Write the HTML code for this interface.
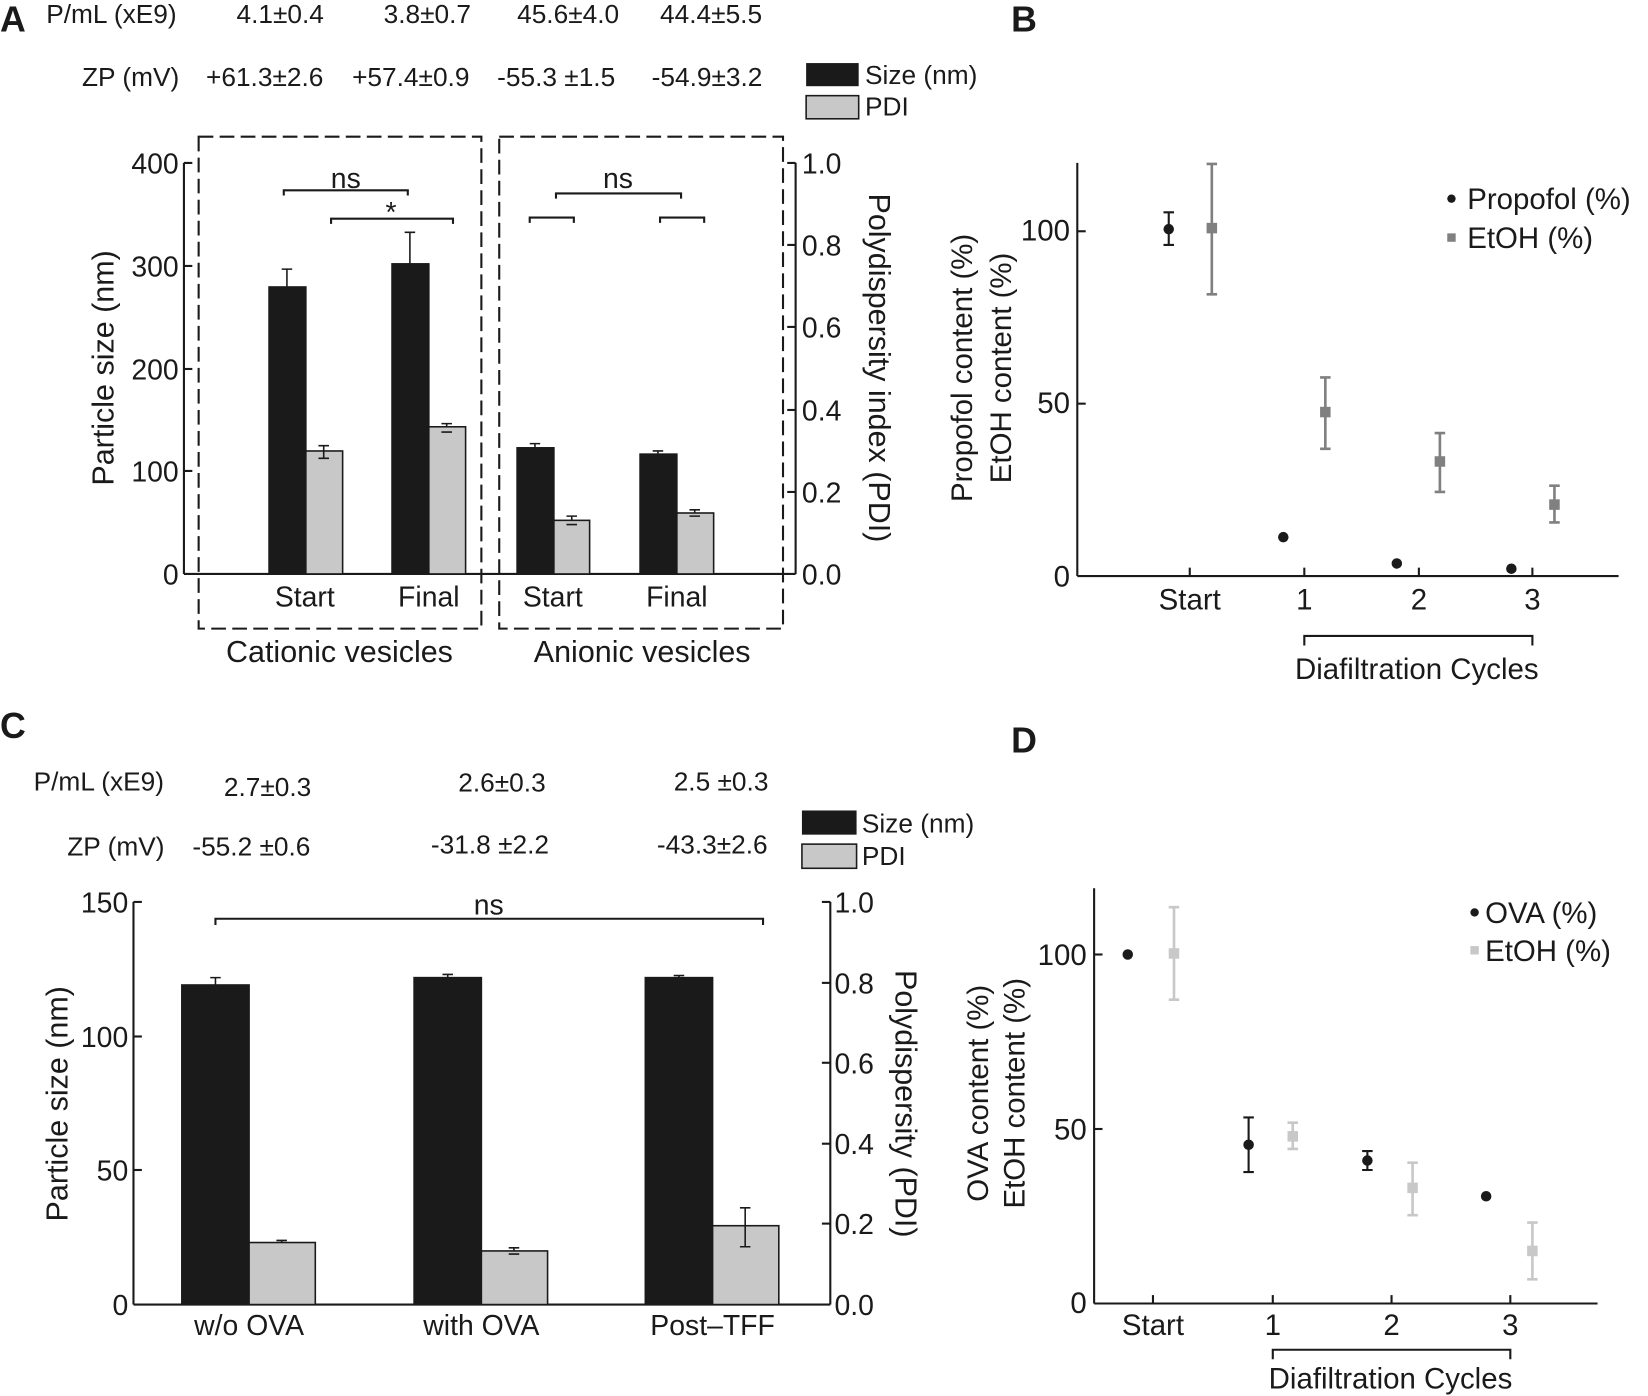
<!DOCTYPE html>
<html><head><style>html,body{margin:0;padding:0;background:#fff}svg{display:block}text{font-family:"Liberation Sans",Arial,sans-serif;fill:#1a1a1a}</style></head>
<body>
<svg width="1648" height="1396" viewBox="0 0 1568 1328" preserveAspectRatio="none" xmlns="http://www.w3.org/2000/svg">
<g stroke="#1a1a1a" stroke-width="2" fill="none">
<line x1="175" y1="155" x2="175" y2="546"/>
<line x1="175" y1="546" x2="757" y2="546"/>
<line x1="757" y1="155" x2="757" y2="546"/>
<line x1="175" y1="155" x2="183" y2="155"/><line x1="175" y1="253" x2="183" y2="253"/><line x1="175" y1="351" x2="183" y2="351"/><line x1="175" y1="448" x2="183" y2="448"/>
<line x1="749" y1="155" x2="757" y2="155"/><line x1="749" y1="233" x2="757" y2="233"/><line x1="749" y1="311" x2="757" y2="311"/><line x1="749" y1="390" x2="757" y2="390"/><line x1="749" y1="468" x2="757" y2="468"/>
<rect x="189" y="130" width="269" height="468" stroke-dasharray="14,6"/>
<rect x="475" y="130" width="270" height="468" stroke-dasharray="14,6"/>
<polyline points="270,186 270,181 388,181 388,186"/>
<polyline points="315,213 315,208 431,208 431,213"/>
<polyline points="529,189 529,184 648,184 648,189"/>
<polyline points="504,212 504,207 546,207 546,212"/>
<polyline points="628,212 628,207 670,207 670,212"/>
</g>
<g stroke="#1a1a1a" stroke-width="1.5">
<rect x="256" y="273" width="35" height="273" fill="#1a1a1a"/>
<rect x="291" y="429" width="35" height="117" fill="#c8c8c8"/>
<rect x="373" y="251" width="35" height="295" fill="#1a1a1a"/>
<rect x="408" y="406" width="35" height="140" fill="#c8c8c8"/>
<rect x="492" y="426" width="35" height="120" fill="#1a1a1a"/>
<rect x="527" y="495" width="34" height="51" fill="#c8c8c8"/>
<rect x="609" y="432" width="35" height="114" fill="#1a1a1a"/>
<rect x="644" y="488" width="35" height="58" fill="#c8c8c8"/>
</g>
<g stroke="#1a1a1a" stroke-width="1.5" fill="none">
<path d="M273,273V256M268,256h10M308,429V424M303,424h10M303,436h10M308,436V429"/>
<path d="M390,251V221M385,221h10M425,406V403M420,403h10M420,411h10"/>
<path d="M509,426V422M504,422h10M544,495V491M539,491h10M539,499h10"/>
<path d="M626,432V429M621,429h10M661,488V485M656,485h10M656,491h10"/>
</g>
<g font-size="25">
<text x="0" y="30" font-size="34" font-weight="bold">A</text>
<text x="44" y="22">P/mL (xE9)</text>
<text x="225" y="22">4.1±0.4</text><text x="365" y="22">3.8±0.7</text><text x="492" y="22">45.6±4.0</text><text x="628" y="22">44.4±5.5</text>
<text x="78" y="82">ZP (mV)</text>
<text x="196" y="82">+61.3±2.6</text><text x="335" y="82">+57.4±0.9</text><text x="473" y="82">-55.3 ±1.5</text><text x="620" y="82">-54.9±3.2</text>
<text x="823" y="80">Size (nm)</text><text x="823" y="110">PDI</text>
<g font-size="27">
<text x="170" y="165" text-anchor="end">400</text><text x="170" y="263" text-anchor="end">300</text><text x="170" y="361" text-anchor="end">200</text><text x="170" y="458" text-anchor="end">100</text><text x="170" y="556" text-anchor="end">0</text>
<text x="763" y="165">1.0</text><text x="763" y="243">0.8</text><text x="763" y="321">0.6</text><text x="763" y="400">0.4</text><text x="763" y="478">0.2</text><text x="763" y="556">0.0</text>
<text x="290" y="577" text-anchor="middle">Start</text><text x="408" y="577" text-anchor="middle">Final</text>
<text x="526" y="577" text-anchor="middle">Start</text><text x="644" y="577" text-anchor="middle">Final</text>
<text x="329" y="179" text-anchor="middle">ns</text><text x="588" y="179" text-anchor="middle">ns</text><text x="372" y="211" text-anchor="middle">*</text>
</g>
<text x="323" y="630" text-anchor="middle" font-size="29">Cationic vesicles</text>
<text x="611" y="630" text-anchor="middle" font-size="29">Anionic vesicles</text>
<text transform="translate(108,350) rotate(-90)" text-anchor="middle" font-size="29">Particle size (nm)</text>
<text transform="translate(827,350) rotate(90)" text-anchor="middle" font-size="29">Polydispersity index (PDI)</text>
</g>
<rect x="767" y="60" width="50" height="22" fill="#1a1a1a"/>
<rect x="767" y="91" width="50" height="22" fill="#c8c8c8" stroke="#1a1a1a" stroke-width="1.5"/>

<g stroke="#1a1a1a" stroke-width="2" fill="none">
<line x1="1025" y1="155" x2="1025" y2="548"/><line x1="1025" y1="548" x2="1540" y2="548"/>
<line x1="1025" y1="220" x2="1033" y2="220"/><line x1="1025" y1="384" x2="1033" y2="384"/>
<line x1="1132" y1="548" x2="1132" y2="540"/><line x1="1241" y1="548" x2="1241" y2="540"/><line x1="1350" y1="548" x2="1350" y2="540"/><line x1="1458" y1="548" x2="1458" y2="540"/>
<polyline points="1241,614 1241,605 1458,605 1458,614"/>
<path d="M1112,202V233M1107,202h10M1107,233h10"/>
</g>
<g fill="#1a1a1a"><circle cx="1112" cy="218" r="5"/><circle cx="1221" cy="511" r="5"/><circle cx="1329" cy="536" r="5"/><circle cx="1438" cy="541" r="5"/><circle cx="1381" cy="189" r="4"/></g>
<g stroke="#808080" stroke-width="2.5" fill="none">
<path d="M1153,156V280M1148,156h10M1148,280h10M1261,359V427M1256,359h10M1256,427h10M1370,412V468M1365,412h10M1365,468h10M1479,462V497M1474,462h10M1474,497h10"/>
</g>
<g fill="#808080"><rect x="1148" y="212" width="10" height="10"/><rect x="1256" y="387" width="10" height="10"/><rect x="1365" y="434" width="10" height="10"/><rect x="1474" y="475" width="10" height="10"/><rect x="1377" y="222" width="8" height="8"/></g>
<g font-size="28">
<text x="962" y="30" font-size="34" font-weight="bold">B</text>
<text x="1018" y="229" text-anchor="end">100</text><text x="1018" y="393" text-anchor="end">50</text><text x="1018" y="558" text-anchor="end">0</text>
<text x="1132" y="580" text-anchor="middle">Start</text><text x="1241" y="580" text-anchor="middle">1</text><text x="1350" y="580" text-anchor="middle">2</text><text x="1458" y="580" text-anchor="middle">3</text>
<text x="1348" y="646" text-anchor="middle">Diafiltration Cycles</text>
<text x="1396" y="199">Propofol (%)</text><text x="1396" y="236">EtOH (%)</text>
<text transform="translate(925,350) rotate(-90)" text-anchor="middle">Propofol content (%)</text>
<text transform="translate(962,350) rotate(-90)" text-anchor="middle">EtOH content (%)</text>
</g>

<g stroke="#1a1a1a" stroke-width="2" fill="none">
<line x1="127" y1="858" x2="127" y2="1241"/><line x1="127" y1="1241" x2="790" y2="1241"/><line x1="790" y1="858" x2="790" y2="1241"/>
<line x1="127" y1="858" x2="135" y2="858"/><line x1="127" y1="986" x2="135" y2="986"/><line x1="127" y1="1113" x2="135" y2="1113"/>
<line x1="782" y1="858" x2="790" y2="858"/><line x1="782" y1="935" x2="790" y2="935"/><line x1="782" y1="1011" x2="790" y2="1011"/><line x1="782" y1="1088" x2="790" y2="1088"/><line x1="782" y1="1164" x2="790" y2="1164"/>
<polyline points="205,880 205,874 726,874 726,880"/>
</g>
<g stroke="#1a1a1a" stroke-width="1.5">
<rect x="173" y="937" width="64" height="304" fill="#1a1a1a"/>
<rect x="237" y="1182" width="63" height="59" fill="#c8c8c8"/>
<rect x="394" y="930" width="64" height="311" fill="#1a1a1a"/>
<rect x="458" y="1190" width="63" height="51" fill="#c8c8c8"/>
<rect x="614" y="930" width="64" height="311" fill="#1a1a1a"/>
<rect x="678" y="1166" width="63" height="75" fill="#c8c8c8"/>
</g>
<g stroke="#1a1a1a" stroke-width="1.5" fill="none">
<path d="M205,937V930M200,930h10M268,1182V1180M263,1180h10M426,930V927M421,927h10M489,1190V1187M484,1187h10M484,1193h10M646,930V928M641,928h10M709,1166V1149M704,1149h10M704,1186h10M709,1166V1186"/>
</g>
<g font-size="25">
<text x="0" y="702" font-size="34" font-weight="bold">C</text>
<text x="32" y="752">P/mL (xE9)</text>
<text x="213" y="757">2.7±0.3</text><text x="436" y="753">2.6±0.3</text><text x="641" y="752">2.5 ±0.3</text>
<text x="64" y="814">ZP (mV)</text>
<text x="183" y="814">-55.2 ±0.6</text><text x="410" y="812">-31.8 ±2.2</text><text x="625" y="812">-43.3±2.6</text>
<text x="820" y="792">Size (nm)</text><text x="820" y="823">PDI</text>
<g font-size="27">
<text x="122" y="868" text-anchor="end">150</text><text x="122" y="996" text-anchor="end">100</text><text x="122" y="1123" text-anchor="end">50</text><text x="122" y="1251" text-anchor="end">0</text>
<text x="794" y="868">1.0</text><text x="794" y="945">0.8</text><text x="794" y="1021">0.6</text><text x="794" y="1098">0.4</text><text x="794" y="1174">0.2</text><text x="794" y="1251">0.0</text>
<text x="237" y="1270" text-anchor="middle">w/o OVA</text><text x="458" y="1270" text-anchor="middle">with OVA</text><text x="678" y="1270" text-anchor="middle">Post–TFF</text>
<text x="465" y="870" text-anchor="middle">ns</text>
</g>
<text transform="translate(64,1050) rotate(-90)" text-anchor="middle" font-size="29">Particle size (nm)</text>
<text transform="translate(852,1050) rotate(90)" text-anchor="middle" font-size="29">Polydispersity (PDI)</text>
</g>
<rect x="763" y="771" width="52" height="23" fill="#1a1a1a"/>
<rect x="763" y="803" width="52" height="23" fill="#c8c8c8" stroke="#1a1a1a" stroke-width="1.5"/>

<g stroke="#1a1a1a" stroke-width="2" fill="none">
<line x1="1041" y1="845" x2="1041" y2="1240"/><line x1="1041" y1="1240" x2="1520" y2="1240"/>
<line x1="1041" y1="908" x2="1049" y2="908"/><line x1="1041" y1="1074" x2="1049" y2="1074"/>
<line x1="1097" y1="1240" x2="1097" y2="1232"/><line x1="1211" y1="1240" x2="1211" y2="1232"/><line x1="1324" y1="1240" x2="1324" y2="1232"/><line x1="1437" y1="1240" x2="1437" y2="1232"/>
<polyline points="1211,1293 1211,1284 1437,1284 1437,1293"/>
<path d="M1188,1063V1115M1183,1063h10M1183,1115h10M1301,1095V1113M1296,1095h10M1296,1113h10"/>
</g>
<g fill="#1a1a1a"><circle cx="1073" cy="908" r="5"/><circle cx="1188" cy="1089" r="5"/><circle cx="1301" cy="1104" r="5"/><circle cx="1414" cy="1138" r="5"/><circle cx="1403" cy="868" r="4"/></g>
<g stroke="#c8c8c8" stroke-width="2.5" fill="none">
<path d="M1117,863V951M1112,863h10M1112,951h10M1230,1068V1093M1225,1068h10M1225,1093h10M1344,1106V1156M1339,1106h10M1339,1156h10M1458,1163V1217M1453,1163h10M1453,1217h10"/>
</g>
<g fill="#c8c8c8"><rect x="1112" y="902" width="10" height="10"/><rect x="1225" y="1076" width="10" height="10"/><rect x="1339" y="1125" width="10" height="10"/><rect x="1453" y="1185" width="10" height="10"/><rect x="1399" y="900" width="8" height="8"/></g>
<g font-size="28">
<text x="962" y="716" font-size="34" font-weight="bold">D</text>
<text x="1034" y="918" text-anchor="end">100</text><text x="1034" y="1084" text-anchor="end">50</text><text x="1034" y="1249" text-anchor="end">0</text>
<text x="1097" y="1270" text-anchor="middle">Start</text><text x="1211" y="1270" text-anchor="middle">1</text><text x="1324" y="1270" text-anchor="middle">2</text><text x="1437" y="1270" text-anchor="middle">3</text>
<text x="1323" y="1321" text-anchor="middle">Diafiltration Cycles</text>
<text x="1413" y="878">OVA (%)</text><text x="1413" y="914">EtOH (%)</text>
<text transform="translate(940,1040) rotate(-90)" text-anchor="middle">OVA content (%)</text>
<text transform="translate(975,1040) rotate(-90)" text-anchor="middle">EtOH content (%)</text>
</g>
</svg>
</body></html>
